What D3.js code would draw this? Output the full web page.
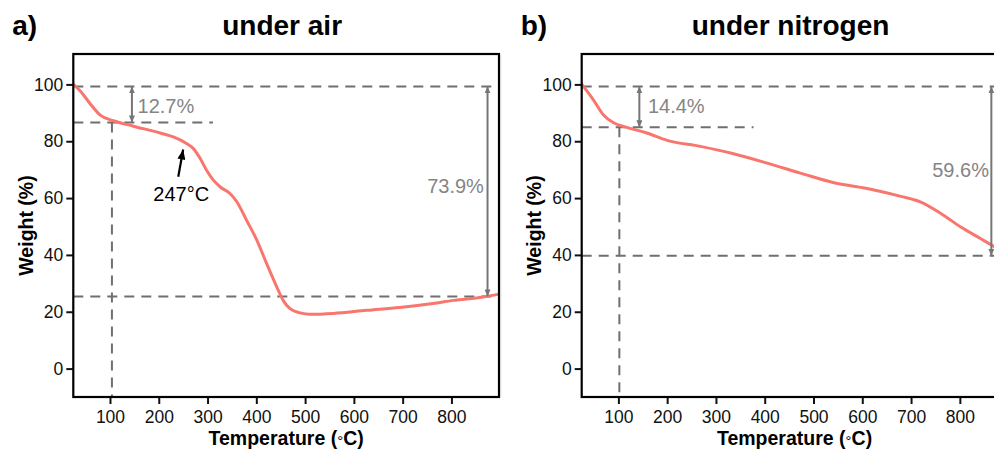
<!DOCTYPE html>
<html>
<head>
<meta charset="utf-8">
<script src="https://cdn.jsdelivr.net/npm/d3@7"></script>
<style>
  html, body { margin: 0; padding: 0; background: #fff; }
  svg { display: block; font-family: Arial, "Liberation Sans", Helvetica, sans-serif; }
</style>
</head>
<body>
<svg id="chart" width="994" height="451"></svg>
<script>
// TGA curves: temperature (°C) vs residual weight (%)
const airTemp = [25, 40, 59, 80, 107, 148, 203, 230, 257, 271, 285, 298, 312, 326, 346, 360, 380, 401, 421, 442, 455, 469, 490, 510, 558, 626, 694, 762, 804, 865, 897];
const airWeight = [100, 97.5, 93.3, 89.2, 87.2, 85.3, 82.9, 81.5, 79.2, 77.4, 73.9, 69.8, 66.3, 63.9, 61.6, 58.7, 52.2, 45.2, 37.0, 28.7, 24.0, 21.1, 19.6, 19.1, 19.4, 20.5, 21.5, 22.9, 24.0, 25.2, 26.2];

const n2Temp = [25, 49, 69, 90, 117, 158, 200, 268, 336, 405, 473, 542, 610, 679, 720, 761, 802, 843, 870, 897];
const n2Weight = [100, 94.5, 89.3, 86.5, 84.9, 82.9, 80.3, 78.2, 75.6, 72.3, 68.8, 65.4, 63.4, 60.6, 58.6, 54.6, 49.8, 45.7, 43.0, 40.3];

const xTicks = [100, 200, 300, 400, 500, 600, 700, 800];
const yTicks = [0, 20, 40, 60, 80, 100];

// Reference levels (%) and the weight losses between them
const startLevel = 99.3;
const airLoss1 = 12.7, airLossTotal = 73.9;
const n2Loss1 = 14.4, n2LossTotal = 59.6;

const panels = [
  { tag: "a)", title: "under air", left: 73.3, temp: airTemp, weight: airWeight,
    loss1: airLoss1, lossTotal: airLossTotal, vTemp: 104, hEnd: 311,
    arrow1T: 145, label1T: 156.5, label1W: 92.5,
    arrow2T: 874, label2T: 866.5, label2W: 64.4,
    onset: { text: "247°C", t: 246, w: 58.9, tipT: 250, tipW: 77.1, tailT: 240, tailW: 67.5 } },
  { tag: "b)", title: "under nitrogen", left: 581.7, temp: n2Temp, weight: n2Weight,
    loss1: n2Loss1, lossTotal: n2LossTotal, vTemp: 102, hEnd: 377,
    arrow1T: 143, label1T: 160.5, label1W: 92.3,
    arrow2T: 864.6, label2T: 859.7, label2W: 69.9,
    onset: null }
];

const svg = d3.select("#chart");
svg.append("rect").attr("width", 994).attr("height", 451).attr("fill", "#fff");

const defs = svg.append("defs");
function marker(id, color, w, h) {
  defs.append("marker").attr("id", id)
    .attr("viewBox", `0 0 ${h} ${w}`).attr("refX", h).attr("refY", w / 2)
    .attr("markerWidth", h).attr("markerHeight", w)
    .attr("markerUnits", "userSpaceOnUse").attr("orient", "auto-start-reverse")
    .append("path").attr("d", `M0,0 L${h},${w / 2} L0,${w} Z`).attr("fill", color);
}
marker("headGray", "#767676", 6, 7);
marker("headBlack", "#000", 8, 10);

// faint seam between the two panels
svg.append("line").attr("x1", 501).attr("x2", 501).attr("y1", 55).attr("y2", 397)
  .attr("stroke", "#efefef").attr("stroke-width", 1.5);

const plotTop = 54, plotBottom = 397, plotWidth = 425.7;
const dashColor = "#6f6f6f", labelColor = "#858585", curveColor = "#F8766D";

panels.forEach(p => {
  const x = d3.scaleLinear().domain([24.8, 897.5]).range([p.left, p.left + plotWidth]);
  const y = d3.scaleLinear().domain([-10, 110.7]).range([plotBottom, plotTop]);
  const g = svg.append("g");

  // headings
  g.append("text").attr("x", p.left - 61).attr("y", 35).attr("font-size", 28)
    .attr("font-weight", "bold").attr("fill", "#000").text(p.tag);
  g.append("text").attr("x", p.left + plotWidth / 2 - 4).attr("y", 35).attr("font-size", 28)
    .attr("font-weight", "bold").attr("text-anchor", "middle").attr("fill", "#000").text(p.title);

  // axes
  const xAxis = g.append("g").attr("transform", `translate(0,${plotBottom})`)
    .call(d3.axisBottom(x).tickValues(xTicks).tickSize(7).tickPadding(6.5).tickSizeOuter(0));
  const yAxis = g.append("g").attr("transform", `translate(${p.left},0)`)
    .call(d3.axisLeft(y).tickValues(yTicks).tickSize(7).tickPadding(3).tickSizeOuter(0));
  [xAxis, yAxis].forEach(a => {
    a.select(".domain").remove();
    a.selectAll(".tick line").attr("stroke", "#111").attr("stroke-width", 2);
    a.selectAll(".tick text").attr("font-size", 17.5).attr("fill", "#111")
      .attr("font-family", "Arial, 'Liberation Sans', sans-serif");
  });

  // axis titles
  const xt = g.append("text").attr("x", p.left + plotWidth / 2).attr("y", 445).attr("text-anchor", "middle")
    .attr("font-size", 19.5).attr("font-weight", "bold").attr("fill", "#000");
  xt.append("tspan").text("Temperature (");
  xt.append("tspan").attr("dy", 1).attr("font-size", 15).attr("font-weight", "normal").text("°");
  xt.append("tspan").attr("dy", -1).text("C)");
  g.append("text").attr("transform", `translate(${p.left - 40.5},${(plotTop + plotBottom) / 2}) rotate(-90)`)
    .attr("text-anchor", "middle").attr("font-size", 19.5).attr("font-weight", "bold").attr("fill", "#000")
    .text("Weight (%)");

  const plot = g.append("g");
  const clipId = "clip" + p.tag[0];
  defs.append("clipPath").attr("id", clipId).append("rect")
    .attr("x", p.left).attr("y", plotTop).attr("width", plotWidth).attr("height", plotBottom - plotTop);

  // reference levels
  const level1 = startLevel - p.loss1;
  const levelEnd = startLevel - p.lossTotal;
  const dash = (x1, y1, x2, y2) => plot.append("line")
    .attr("x1", x(x1)).attr("y1", y(y1)).attr("x2", x(x2)).attr("y2", y(y2))
    .attr("stroke", dashColor).attr("stroke-width", 2).attr("stroke-dasharray", "10,7")
    .attr("clip-path", `url(#${clipId})`);
  dash(24.8, startLevel, 897.5, startLevel);
  dash(24.8, level1, p.hEnd, level1);
  dash(p.vTemp, level1, p.vTemp, -10);
  dash(24.8, levelEnd, 897.5, levelEnd);

  // weight curve
  const pts = p.temp.map((t, i) => [t, p.weight[i]]);
  plot.append("path").datum(pts)
    .attr("d", d3.line().x(d => x(d[0])).y(d => y(d[1])).curve(d3.curveMonotoneX))
    .attr("fill", "none").attr("stroke", curveColor).attr("stroke-width", 3)
    .attr("stroke-linecap", "round").attr("clip-path", `url(#${clipId})`);

  // loss arrows and labels
  const dbl = (t, w1, w2) => plot.append("line")
    .attr("x1", x(t)).attr("x2", x(t)).attr("y1", y(w1)).attr("y2", y(w2))
    .attr("stroke", "#767676").attr("stroke-width", 2)
    .attr("marker-start", "url(#headGray)").attr("marker-end", "url(#headGray)");
  dbl(p.arrow1T, startLevel, level1);
  dbl(p.arrow2T, startLevel, levelEnd);
  plot.append("text").attr("x", x(p.label1T)).attr("y", y(p.label1W)).attr("dy", "0.36em")
    .attr("font-size", 20).attr("fill", labelColor).text(p.loss1 + "%");
  plot.append("text").attr("x", x(p.label2T)).attr("y", y(p.label2W)).attr("dy", "0.36em")
    .attr("text-anchor", "end").attr("font-size", 20).attr("fill", labelColor).text(p.lossTotal + "%");

  // onset temperature marker
  if (p.onset) {
    const o = p.onset;
    plot.append("line").attr("x1", x(o.tailT)).attr("y1", y(o.tailW))
      .attr("x2", x(o.tipT)).attr("y2", y(o.tipW))
      .attr("stroke", "#000").attr("stroke-width", 2.2).attr("marker-end", "url(#headBlack)");
    plot.append("text").attr("x", x(o.t)).attr("y", y(o.w)).attr("text-anchor", "middle")
      .attr("font-size", 20).attr("fill", "#000").text(o.text);
  }

  // panel frame
  g.append("rect").attr("x", p.left).attr("y", plotTop).attr("width", plotWidth).attr("height", plotBottom - plotTop)
    .attr("fill", "none").attr("stroke", "#000").attr("stroke-width", 2.2);
});
</script>
</body>
</html>
